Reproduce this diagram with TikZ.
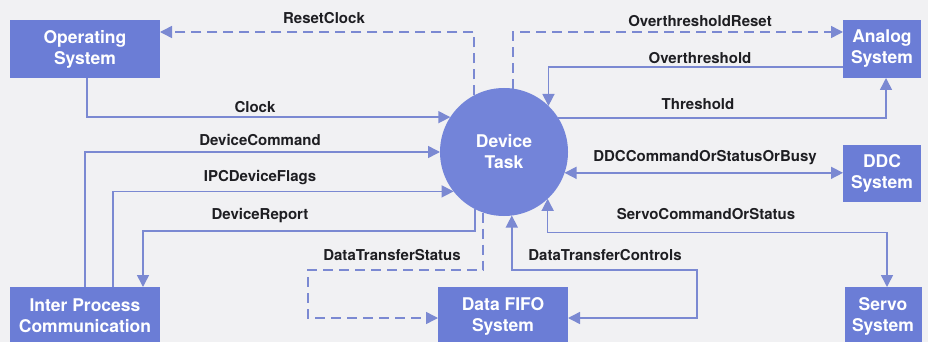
\documentclass[tikz,border=0pt]{standalone}
\usepackage{fontspec}
\setmainfont{TeX Gyre Heros}
\usetikzlibrary{arrows.meta}
\definecolor{boxblue}{HTML}{6B7DD6}
\definecolor{circblue}{HTML}{7384D9}
\definecolor{linblue}{HTML}{7B89D2}
\definecolor{bgcol}{HTML}{F1F1F3}
\definecolor{ink}{HTML}{1E1E22}
\begin{document}
\begin{tikzpicture}[x=1pt,y=-1pt,
  >={Triangle[length=12pt,width=12pt]},
  box/.style={fill=boxblue, text=white, font=\fontsize{17.5}{21}\selectfont\bfseries, align=center, inner sep=0pt, outer sep=0pt},
  lbl/.style={text=ink, font=\fontsize{15}{17}\selectfont\bfseries, inner sep=0pt},
  conn/.style={draw=linblue, line width=1.5pt},
  dsh/.style={conn, dash pattern=on 10pt off 6pt}]
\fill[bgcol] (0,0) rectangle (928,342);
\useasboundingbox (0,0) rectangle (928,342);
% nodes
\node[box, minimum width=150pt, minimum height=58pt] (os) at (85,49) {Operating\\System};
\node[box, minimum width=78pt, minimum height=58pt] (an) at (882,49) {Analog\\System};
\node[box, minimum width=78pt, minimum height=57pt] (ddc) at (882,173.5) {DDC\\System};
\node[box, minimum width=150pt, minimum height=58pt] (ipc) at (85,316) {Inter Process\\Communication};
\node[box, minimum width=130pt, minimum height=58pt] (fifo) at (503,316) {Data FIFO\\System};
\node[box, minimum width=77pt, minimum height=58pt] (servo) at (883,316) {Servo\\System};
\node[circle, fill=circblue, minimum size=128pt, inner sep=0pt, outer sep=0pt, text=white,
      font=\fontsize{17.5}{21}\selectfont\bfseries, align=center] (dt) at (504,152) {Device\\Task};
% helper coordinates
\coordinate (dtsw) at (308,270);
\coordinate (dtse) at (697,270);
% connectors
\draw[dsh,->] (dt.118) |- ([yshift=17pt]os.east);
\draw[dsh,->] (dt.82.8) |- ([yshift=17pt]an.west);
\draw[conn,->] ([yshift=-18pt]an.west) -| (dt.46.6);
\draw[conn,->] (dt.32.1) -| ([xshift=4pt]an.south);
\draw[conn,->] ([xshift=2pt]os.south) |- (dt.147.9);
\draw[conn,->] (ipc.north) |- (dt.west);
\draw[conn,->] ([xshift=28pt]ipc.north) |- (dt.218.7);
\draw[conn,->] (dt.243.1) -- ++(0,22) -| ([xshift=58pt]ipc.north);
\draw[conn,<->] (dt.341.8) -- (dt.341.8 -| ddc.west);
\draw[dsh,->] (dt.251.8) |- (dtsw) |- ([yshift=-2pt]fifo.west);
\draw[conn,<->] ([yshift=-2pt]fifo.east) -| (dtse) -| (dt.277.2);
\draw[conn,<->] (dt.313.4) -- ++(0,33.5) -| ([xshift=4pt]servo.north);
% labels
\node[lbl] (lreset) at (324,18) {ResetClock};
\node[lbl] (lovr) at (700,21) {OverthresholdReset};
\node[lbl] (lov) at (700,58) {Overthreshold};
\node[lbl] (lthr) at (698,104) {Threshold};
\node[lbl] (lclk) at (255,107) {Clock};
\node[lbl] (ldc) at (260,140) {DeviceCommand};
\node[lbl] (lipc) at (260,178) {IPCDeviceFlags};
\node[lbl] (ldr) at (260,216) {DeviceReport};
\node[lbl] (lddc) at (705,158) {DDCCommandOrStatusOrBusy};
\node[lbl] (lsrv) at (706,214) {ServoCommandOrStatus};
\node[lbl] (ldts) at (392,255) {DataTransferStatus};
\node[lbl] (ldtc) at (605,255) {DataTransferControls};
\end{tikzpicture}
\end{document}
